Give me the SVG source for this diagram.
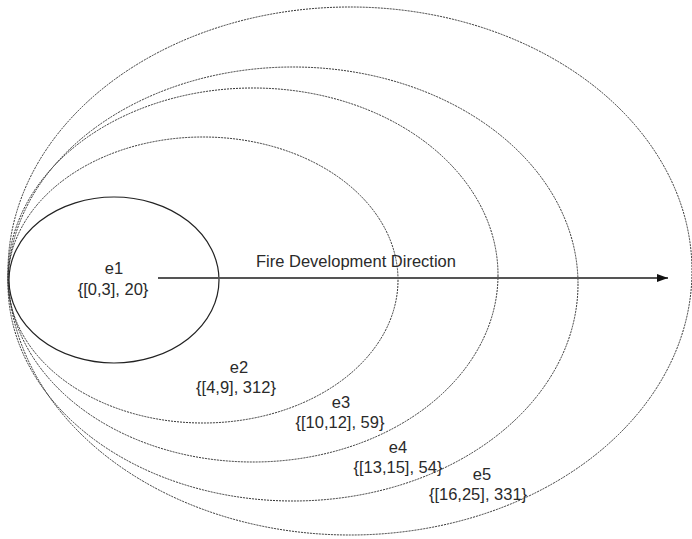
<svg xmlns="http://www.w3.org/2000/svg" width="692" height="539" viewBox="0 0 692 539">
<style>
.dash{fill:none;stroke:#333;stroke-width:1;stroke-dasharray:2,1}
.solid{fill:none;stroke:#222;stroke-width:1.2}
text{font-family:"Liberation Sans",Arial,sans-serif;font-size:16.5px;fill:#2a2a2a;text-anchor:middle}
</style>
<defs>
<marker id="arr" markerWidth="12" markerHeight="10" refX="11" refY="5" orient="auto" markerUnits="userSpaceOnUse">
<path d="M0,1 L11,5 L0,9 Z" fill="#111"/>
</marker>
</defs>
<rect width="692" height="539" fill="#fff"/>
<g id="e5"><ellipse class="dash" cx="350" cy="271" rx="342" ry="264"/><text x="482" y="480">e5</text><text x="478" y="500">{[16,25], 331}</text></g>
<g id="e4"><ellipse class="dash" cx="293" cy="284" rx="285" ry="217"/><text x="398" y="453">e4</text><text x="398" y="473">{[13,15], 54}</text></g>
<g id="e3"><ellipse class="dash" cx="253" cy="275" rx="245" ry="187"/><text x="341" y="408">e3</text><text x="340" y="428">{[10,12], 59}</text></g>
<g id="e2"><ellipse class="dash" cx="203" cy="280" rx="195" ry="143"/><text x="239" y="373">e2</text><text x="236" y="393">{[4,9], 312}</text></g>
<g id="e1"><ellipse class="solid" cx="114" cy="280" rx="105" ry="83"/><text x="114" y="274">e1</text><text x="113" y="295">{[0,3], 20}</text></g>
<g id="connectors">
<line x1="158" y1="278" x2="668" y2="278" stroke="#555" stroke-width="2" marker-end="url(#arr)"/>
<text x="356" y="267">Fire Development Direction</text>
</g>
</svg>
